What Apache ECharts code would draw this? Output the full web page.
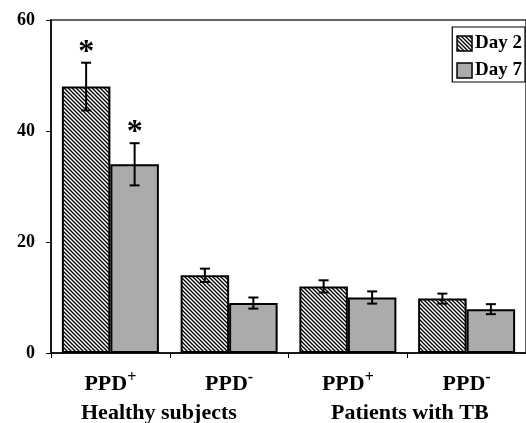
<!DOCTYPE html>
<html><head><meta charset="utf-8">
<script src="https://cdn.jsdelivr.net/npm/echarts@6/dist/echarts.min.js"></script>
<style>html,body{margin:0;padding:0;background:#fff}#c{width:526px;height:423px}</style>
</head><body><div id="c"></div>
<script>
const categories = ['PPD+', 'PPD-', 'PPD+', 'PPD-'];
const groups = ['Healthy subjects', 'Patients with TB'];
const seriesNames = ['Day 2', 'Day 7'];
const day2 = [48, 14, 12, 9.8];
const day7 = [34, 9, 10, 7.9];
const day2Err = [4.3, 1.2, 1.1, 0.9];
const day7Err = [3.8, 1.0, 1.1, 0.9];
const day2Sig = [true, false, false, false];
const day7Sig = [true, false, false, false];
const yTicks = [0, 20, 40, 60];

const SERIF = '"Liberation Serif", "DejaVu Serif", serif';
const BAR_W = 48.5;

function hatch() {
  const c = document.createElement('canvas');
  c.width = 4; c.height = 4;
  const g = c.getContext('2d');
  g.fillStyle = '#fff'; g.fillRect(0, 0, 4, 4);
  g.strokeStyle = '#000'; g.lineWidth = 1.3;
  g.beginPath();
  g.moveTo(-1, -1); g.lineTo(5, 5);
  g.moveTo(-1, 3); g.lineTo(1, 5);
  g.moveTo(3, -1); g.lineTo(5, 1);
  g.stroke();
  return c;
}
const hatchFill = { image: hatch(), repeat: 'repeat' };
const grayFill = '#ababab';

function errData(vals, errs, sigs, side) {
  return vals.map((v, i) => [i, v, errs[i], sigs[i] ? 1 : 0, side]);
}

function renderErr(params, api) {
  const i = api.value(0), v = api.value(1), e = api.value(2), sig = api.value(3), side = api.value(4);
  const c = api.coord([i, v]);
  const x = c[0] + side * BAR_W / 2;
  const yTop = api.coord([i, v + e])[1];
  const yBot = api.coord([i, v - e])[1];
  const cap = 5;
  const st = { stroke: '#000', lineWidth: 2 };
  const children = [
    { type: 'line', shape: { x1: x, y1: yTop, x2: x, y2: yBot }, style: st },
    { type: 'line', shape: { x1: x - cap, y1: yTop, x2: x + cap, y2: yTop }, style: st },
    { type: 'line', shape: { x1: x - cap, y1: yBot, x2: x + cap, y2: yBot }, style: st }
  ];
  if (sig) {
    children.push({ type: 'text', style: { text: '*', x: x, y: yTop + 6, align: 'center', verticalAlign: 'bottom',
      font: 'bold 32px ' + SERIF, fill: '#000' } });
  }
  return { type: 'group', children };
}

const chart = echarts.init(document.getElementById('c'));
chart.setOption({
  animation: false,
  backgroundColor: '#fff',
  grid: { left: 51, right: -6, top: 20, bottom: 70, show: true, borderColor: '#333', borderWidth: 1.5, backgroundColor: 'transparent' },
  legend: {
    data: seriesNames, orient: 'vertical', right: 1, top: 27,
    padding: [7, 3, 2, 4], itemGap: 8, itemWidth: 15, itemHeight: 15,
    borderColor: '#000', borderWidth: 1.2, backgroundColor: '#fff',
    icon: 'rect',
    itemStyle: { borderColor: '#000', borderWidth: 1.5 },
    textStyle: { fontFamily: SERIF, fontWeight: 'bold', fontSize: 19, color: '#000', padding: [0, 0, 0, -2] }
  },
  xAxis: {
    type: 'category', data: categories,
    axisLine: { lineStyle: { color: '#000', width: 1.5 } },
    axisTick: { show: true, length: 5, lineStyle: { color: '#000', width: 1 } },
    axisLabel: {
      margin: 17,
      formatter: v => '{b|PPD}{s|' + v.slice(3) + '}',
      rich: {
        b: { fontFamily: SERIF, fontWeight: 'bold', fontSize: 22, color: '#000' },
        s: { fontFamily: SERIF, fontWeight: 'bold', fontSize: 16, color: '#000', padding: [0, 0, 12, 0] }
      }
    }
  },
  yAxis: {
    type: 'value', min: yTicks[0], max: yTicks[yTicks.length - 1], interval: 20,
    axisLine: { show: true, lineStyle: { color: '#000', width: 1.5 } },
    axisTick: { show: true, length: 5, lineStyle: { color: '#000', width: 1 } },
    splitLine: { show: false },
    axisLabel: { margin: 16, fontFamily: SERIF, fontWeight: 'bold', fontSize: 18, color: '#000' }
  },
  series: [
    { name: seriesNames[0], type: 'bar', data: day2, barWidth: BAR_W, barGap: '0%',
      itemStyle: { color: hatchFill, borderColor: '#000', borderWidth: 2 } },
    { name: seriesNames[1], type: 'bar', data: day7, barWidth: BAR_W, barGap: '0%',
      itemStyle: { color: grayFill, borderColor: '#000', borderWidth: 2 } },
    { name: 'err2', type: 'custom', renderItem: renderErr, data: errData(day2, day2Err, day2Sig, -1), z: 5 },
    { name: 'err7', type: 'custom', renderItem: renderErr, data: errData(day7, day7Err, day7Sig, 1), z: 5 }
  ],
  graphic: [
    { type: 'text', left: 81, top: 402, style: { text: groups[0], font: 'bold 22px ' + SERIF, fill: '#000' } },
    { type: 'text', left: 331, top: 402, style: { text: groups[1], font: 'bold 22px ' + SERIF, fill: '#000' } }
  ]
});
</script></body></html>
